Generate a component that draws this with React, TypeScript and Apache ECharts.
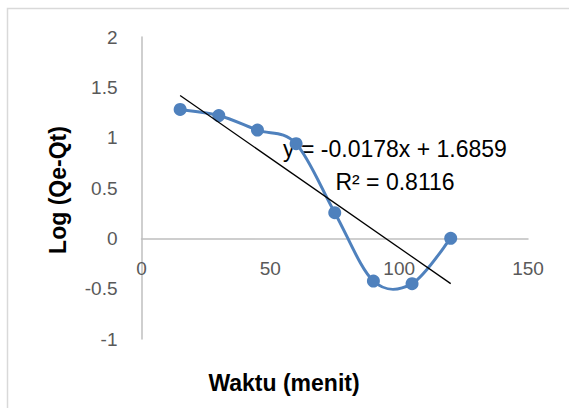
import React, { useEffect, useRef } from "react";
import * as echarts from "echarts";

const times = [15, 30, 45, 60, 75, 90, 105, 120];
const logValues = [1.28, 1.22, 1.075, 0.94, 0.255, -0.424, -0.45, 0];
const trendSlope = -0.0178;
const trendIntercept = 1.6859;
const trendRange = [15, 120];
const equationText = "y = -0.0178x + 1.6859";
const rSquaredText = "R² = 0.8116";
const xTitle = "Waktu (menit)";
const yTitle = "Log (Qe-Qt)";
const xMin = 0;
const xMax = 150;
const xStep = 50;
const yMin = -1;
const yMax = 2;
const yStep = 0.5;

const FONT = "'Liberation Sans', Arial, sans-serif";
const BLUE = "#4F81BD";

const GRID_TOP = 37;
const GRID_BOTTOM = 69;
const CHART_H = 408;

export default function App() {
  const ref = useRef<HTMLDivElement>(null);
  useEffect(() => {
    if (!ref.current) return;
    const chart = echarts.init(ref.current, null, { renderer: "svg" });
    const seriesData = times.map((t, i) => [t, logValues[i]]);
    const trendData = trendRange.map((x) => [x, trendSlope * x + trendIntercept]);
    const gridH = CHART_H - GRID_TOP - GRID_BOTTOM;
    const zeroOffset = -(gridH * (0 - yMin)) / (yMax - yMin);
    const n = seriesData.length;

    const renderSmooth = (params: any, api: any) => {
      const i = params.dataIndex;
      if (i >= n - 1) return null;
      const p = (j: number) => {
        const k = Math.max(0, Math.min(n - 1, j));
        return api.coord(seriesData[k]);
      };
      const p0 = p(i - 1);
      const p1 = p(i);
      const p2 = p(i + 1);
      const p3 = p(i + 2);
      const t = 1 / 6;
      return {
        type: "bezierCurve",
        shape: {
          x1: p1[0],
          y1: p1[1],
          cpx1: p1[0] + (p2[0] - p0[0]) * t,
          cpy1: p1[1] + (p2[1] - p0[1]) * t,
          cpx2: p2[0] - (p3[0] - p1[0]) * t,
          cpy2: p2[1] - (p3[1] - p1[1]) * t,
          x2: p2[0],
          y2: p2[1],
        },
        style: { stroke: BLUE, lineWidth: 3, fill: "none" },
      };
    };

    chart.setOption({
      animation: false,
      backgroundColor: "#ffffff",
      textStyle: { fontFamily: FONT },
      grid: { left: 141.5, right: 41, top: GRID_TOP, bottom: GRID_BOTTOM, containLabel: false },
      xAxis: {
        type: "value",
        min: xMin,
        max: xMax,
        interval: xStep,
        position: "bottom",
        offset: zeroOffset,
        axisLine: { onZero: false, lineStyle: { color: "#BFBFBF", width: 1.5 } },
        axisTick: { show: false },
        splitLine: { show: false },
        axisLabel: { fontFamily: FONT, fontSize: 19, color: "#595959", margin: 21 },
      },
      yAxis: {
        type: "value",
        min: yMin,
        max: yMax,
        interval: yStep,
        axisLine: { show: true, lineStyle: { color: "#BFBFBF", width: 1.5 } },
        axisTick: { show: false },
        splitLine: { show: false },
        axisLabel: { fontFamily: FONT, fontSize: 19, color: "#595959", margin: 24 },
      },
      graphic: [
        {
          type: "rect",
          shape: { x: 7.5, y: 8.5, width: 700, height: 600 },
          style: { fill: "none", stroke: "#D9D9D9", lineWidth: 1.5 },
          silent: true,
        },
        {
          type: "text",
          x: 284,
          y: 383,
          style: {
            text: xTitle,
            fontFamily: FONT,
            fontWeight: "bold",
            fontSize: 23,
            fill: "#000000",
            textAlign: "center",
            textVerticalAlign: "middle",
          },
        },
        {
          type: "text",
          x: 58,
          y: 190,
          rotation: Math.PI / 2,
          style: {
            text: yTitle,
            fontFamily: FONT,
            fontWeight: "bold",
            fontSize: 23,
            fill: "#000000",
            textAlign: "center",
            textVerticalAlign: "middle",
          },
        },
        {
          type: "text",
          x: 395,
          y: 149,
          style: {
            text: equationText,
            fontFamily: FONT,
            fontSize: 23,
            fill: "#000000",
            textAlign: "center",
            textVerticalAlign: "middle",
          },
        },
        {
          type: "text",
          x: 395,
          y: 182,
          style: {
            text: rSquaredText,
            fontFamily: FONT,
            fontSize: 23,
            fill: "#000000",
            textAlign: "center",
            textVerticalAlign: "middle",
          },
        },
      ],
      series: [
        {
          type: "custom",
          data: seriesData,
          encode: { x: 0, y: 1 },
          renderItem: renderSmooth,
          z: 3,
          silent: true,
        },
        {
          type: "scatter",
          data: seriesData,
          symbol: "circle",
          symbolSize: 13,
          itemStyle: { color: BLUE, opacity: 1 },
          z: 4,
        },
        {
          type: "line",
          data: trendData,
          symbol: "none",
          lineStyle: { color: "#000000", width: 1.3 },
          z: 5,
        },
      ],
    });
    return () => chart.dispose();
  }, []);
  return (
    <div
      ref={ref}
      style={{ position: "fixed", left: 0, top: 0, width: 569, height: 408 }}
    />
  );
}
